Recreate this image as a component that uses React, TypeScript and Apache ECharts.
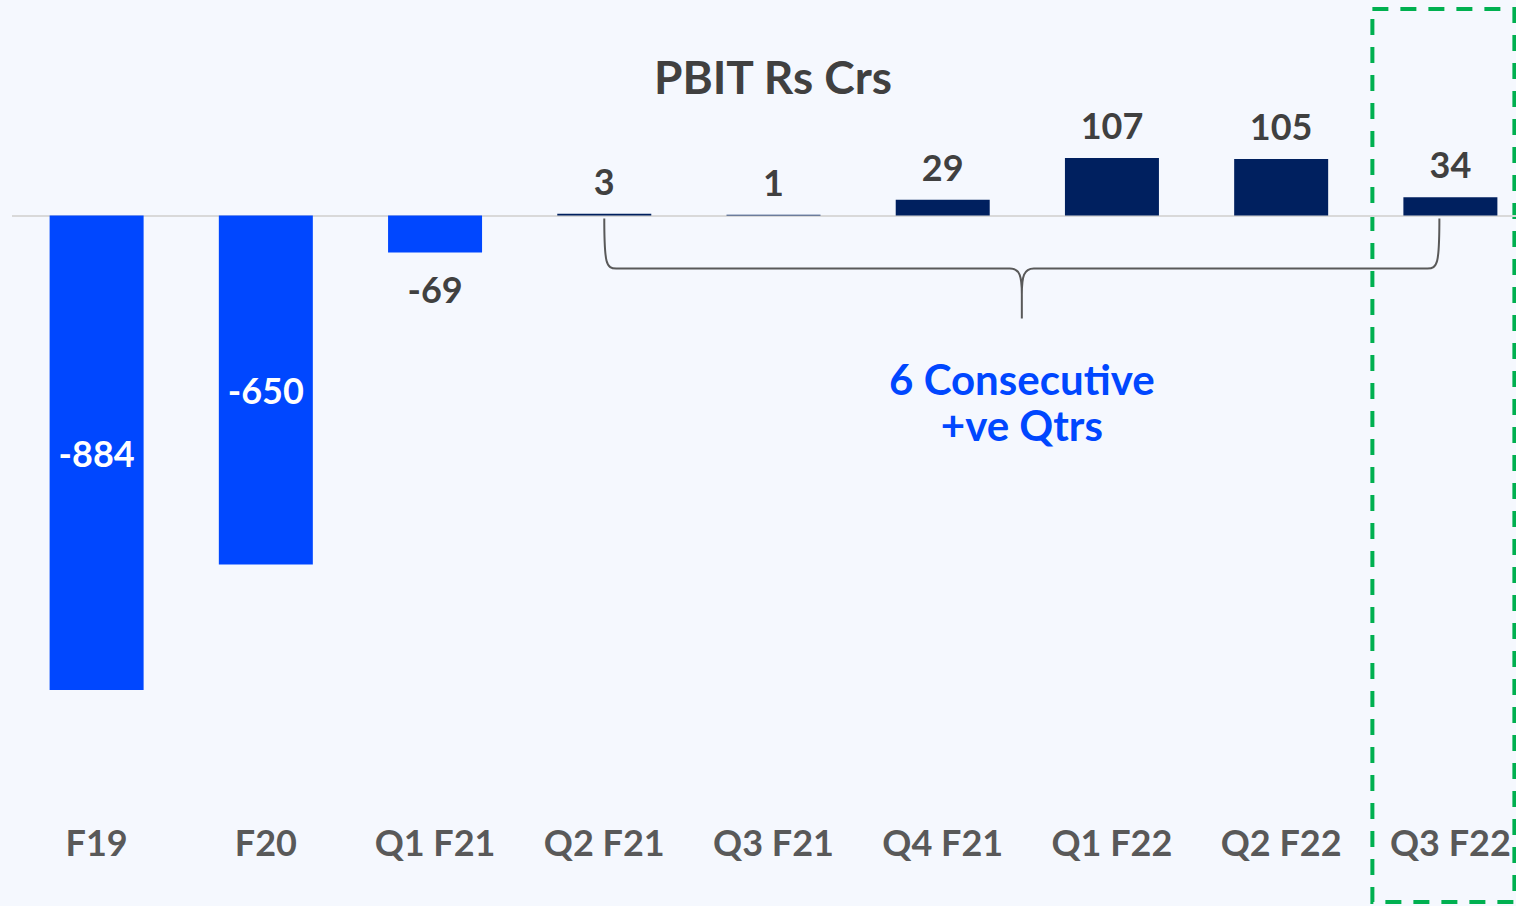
import React, { useEffect, useRef } from "react";
import * as echarts from "echarts";

const categories = ["F19", "F20", "Q1 F21", "Q2 F21", "Q3 F21", "Q4 F21", "Q1 F22", "Q2 F22", "Q3 F22"];
const pbitValues = [-884, -650, -69, 3, 1, 29, 107, 105, 34];
const chartTitle = "PBIT Rs Crs";
const braceLines = ["6 Consecutive", "+ve Qtrs"];
const braceFrom = "Q2 F21";
const braceTo = "Q3 F22";
const highlighted = "Q3 F22";

const NEG = "#0047FF";
const POS = "#00205F";
const FONT = "Lato, 'Open Sans', sans-serif";

export default function App() {
  const ref = useRef<HTMLDivElement>(null);
  useEffect(() => {
    const chart = echarts.init(ref.current!, null, { renderer: "svg" });
    const data = pbitValues.map((v) => {
      let label: any;
      if (v < -300) label = { position: "inside", color: "#FFFFFF" };
      else if (v < 0) label = { position: "bottom", distance: 19, color: "#404040" };
      else label = { position: "top", distance: 15, color: "#404040" };
      return { value: v, itemStyle: { color: v < 0 ? NEG : POS }, label };
    });
    chart.setOption({
      animation: false,
      backgroundColor: "#F5F8FE",
      title: {
        text: chartTitle,
        left: 768,
        top: 48,
        textAlign: "center",
        textStyle: { fontSize: 46, fontWeight: "bold", color: "#404040", fontFamily: FONT },
      },
      grid: {
        left: 12,
        width: 1523,
        top: 108,
        height: 644.4,
        containLabel: false,
        outerBoundsMode: "none",
      },
      xAxis: {
        type: "category",
        data: categories,
        axisLine: { show: false, onZero: false },
        axisTick: { show: false },
        axisLabel: {
          margin: 72,
          fontSize: 36,
          lineHeight: 36,
          fontWeight: "bold",
          color: "#595959",
          fontFamily: FONT,
          interval: 0,
        },
      },
      yAxis: {
        type: "value",
        min: -1000,
        max: 200,
        show: false,
        splitLine: { show: false },
      },
      series: [
        {
          type: "bar",
          data,
          barWidth: 94,
          label: {
            show: true,
            fontSize: 36,
            fontWeight: "bold",
            fontFamily: FONT,
          },
          markLine: {
            silent: true,
            symbol: "none",
            label: { show: false },
            lineStyle: { color: "#D9D9D9", width: 2, type: "solid" },
            data: [{ yAxis: 0 }],
            z: 1,
          },
        },
      ],
    });

    const x1 = chart.convertToPixel({ xAxisIndex: 0 }, braceFrom) as number;
    const x2 = (chart.convertToPixel({ xAxisIndex: 0 }, braceTo) as number) - 11;
    const xh = chart.convertToPixel({ xAxisIndex: 0 }, highlighted) as number;
    const y0 = (chart.convertToPixel({ yAxisIndex: 0 }, 0) as number) + 3;
    const yh = y0 + 50;
    const yt = y0 + 100;
    const xm = (x1 + x2) / 2;
    const d =
      `M ${x1} ${y0} C ${x1} ${yh - 4}, ${x1 + 2} ${yh}, ${x1 + 12} ${yh} ` +
      `L ${xm - 12} ${yh} C ${xm - 2} ${yh}, ${xm} ${yh + 8}, ${xm} ${yh + 26} L ${xm} ${yt} ` +
      `M ${xm} ${yh + 26} C ${xm} ${yh + 8}, ${xm + 2} ${yh}, ${xm + 12} ${yh} ` +
      `L ${x2 - 12} ${yh} C ${x2 - 2} ${yh}, ${x2} ${yh - 4}, ${x2} ${y0}`;
    echarts.graphic.registerShape("brace", echarts.graphic.extendPath(d, {}) as any);

    chart.setOption({
      graphic: [
        {
          type: "brace",
          x: 0,
          y: 0,
          silent: true,
          style: { fill: "none", stroke: "#595959", lineWidth: 2 },
        },
        ...braceLines.map((t, i) => ({
          type: "text",
          x: xm,
          y: yt + 61 + i * 46,
          silent: true,
          style: {
            text: t,
            fill: "#0047FF",
            fontSize: 42,
            fontWeight: "bold",
            fontFamily: FONT,
            align: "center",
            verticalAlign: "middle",
          },
        })),
        {
          type: "rect",
          x: xh - 78,
          y: 9,
          silent: true,
          shape: { width: 142, height: 893 },
          style: { fill: "none", stroke: "#00B050", lineWidth: 4, lineDash: [16, 12] },
        },
      ],
    });

    return () => chart.dispose();
  }, []);
  return <div ref={ref} style={{ position: "absolute", left: 0, top: 0, width: 1516, height: 906 }} />;
}
